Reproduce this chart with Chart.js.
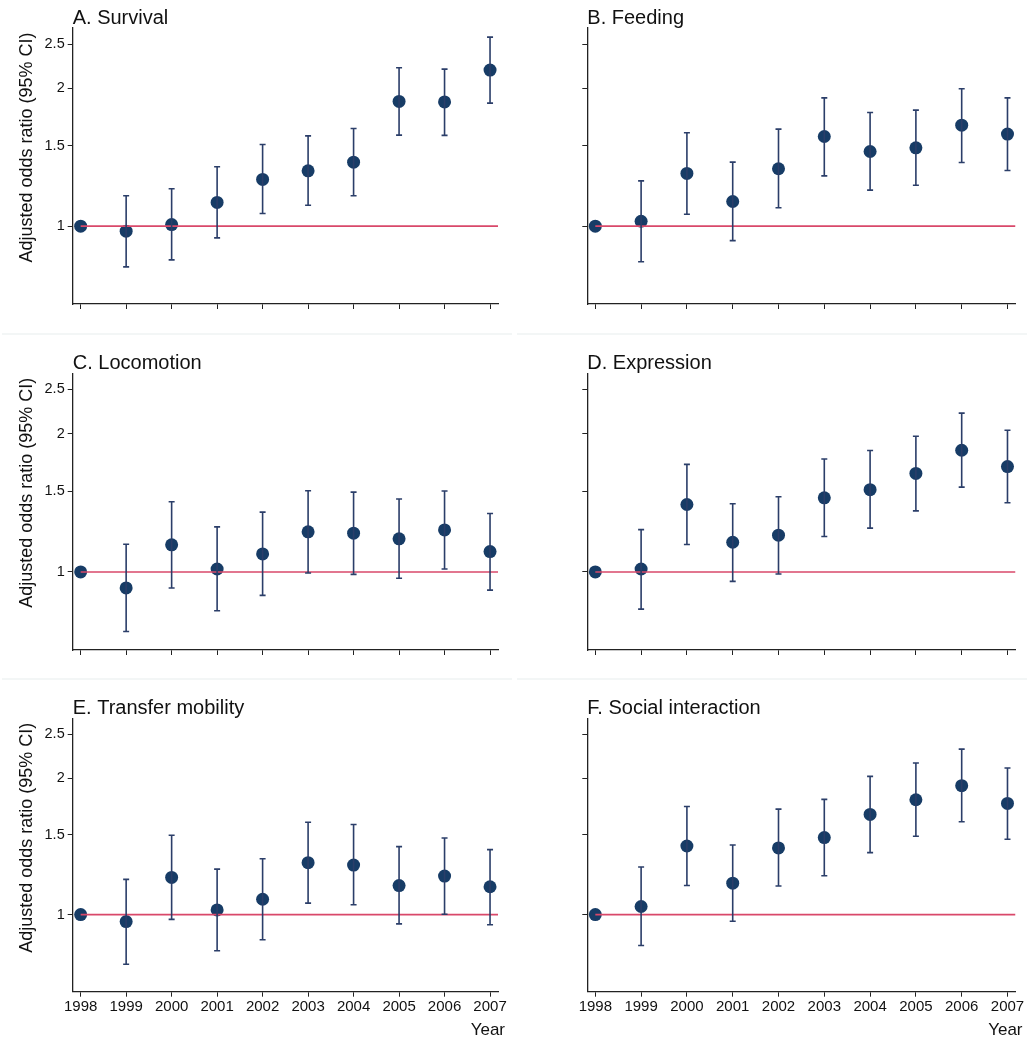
<!DOCTYPE html>
<html>
<head>
<meta charset="utf-8">
<script src="https://cdn.jsdelivr.net/npm/chart.js@4.4.0/dist/chart.umd.min.js"></script>
<style>
  body { margin: 0; background: #fff; width: 1030px; height: 1050px; position: relative; overflow: hidden; }
  .panel { position: absolute; }
  .sep { position: absolute; height: 2px; background: #f3f6f6; }
</style>
</head>
<body>
<div class="panel" style="left:0;top:0"><canvas id="pA"></canvas></div>
<div class="panel" style="left:515px;top:0"><canvas id="pB"></canvas></div>
<div class="panel" style="left:0;top:334px"><canvas id="pC"></canvas></div>
<div class="panel" style="left:515px;top:334px"><canvas id="pD"></canvas></div>
<div class="panel" style="left:0;top:679px"><canvas id="pE"></canvas></div>
<div class="panel" style="left:515px;top:679px"><canvas id="pF"></canvas></div>
<div class="sep" style="left:2px;top:333px;width:510px"></div>
<div class="sep" style="left:517px;top:333px;width:510px"></div>
<div class="sep" style="left:2px;top:678px;width:510px"></div>
<div class="sep" style="left:517px;top:678px;width:510px"></div>

<script>
// data
const years = [1998, 1999, 2000, 2001, 2002, 2003, 2004, 2005, 2006, 2007];
const yTicks = [1, 1.5, 2, 2.5];

const survivalOR = [1, 0.975, 1.008, 1.127, 1.265, 1.321, 1.380, 1.873, 1.868, 2.193];
const survivalLo = [null, 0.815, 0.844, 0.943, 1.066, 1.111, 1.165, 1.581, 1.579, 1.857];
const survivalHi = [null, 1.165, 1.207, 1.348, 1.508, 1.575, 1.635, 2.218, 2.204, 2.589];

const feedingOR = [1, 1.025, 1.304, 1.132, 1.335, 1.570, 1.456, 1.483, 1.662, 1.589];
const feedingLo = [null, 0.836, 1.062, 0.930, 1.097, 1.288, 1.199, 1.229, 1.378, 1.323];
const feedingHi = [null, 1.256, 1.600, 1.380, 1.629, 1.907, 1.772, 1.793, 1.996, 1.907];

const locomotionOR = [1, 0.923, 1.146, 1.015, 1.095, 1.223, 1.215, 1.181, 1.235, 1.108];
const locomotionLo = [null, 0.742, 0.923, 0.823, 0.889, 0.995, 0.988, 0.969, 1.015, 0.913];
const locomotionHi = [null, 1.149, 1.422, 1.254, 1.350, 1.503, 1.493, 1.442, 1.501, 1.341];

const expressionOR = [1, 1.015, 1.403, 1.161, 1.203, 1.451, 1.511, 1.640, 1.842, 1.697];
const expressionLo = [null, 0.830, 1.148, 0.954, 0.990, 1.195, 1.246, 1.359, 1.531, 1.415];
const expressionHi = [null, 1.237, 1.716, 1.408, 1.459, 1.763, 1.839, 1.976, 2.219, 2.037];

const transferOR = [1, 0.965, 1.208, 1.024, 1.081, 1.302, 1.286, 1.159, 1.216, 1.152];
const transferLo = [null, 0.777, 0.976, 0.832, 0.880, 1.060, 1.051, 0.954, 1.002, 0.950];
const transferHi = [null, 1.196, 1.496, 1.260, 1.328, 1.599, 1.580, 1.412, 1.476, 1.391];

const socialOR = [1, 1.042, 1.417, 1.173, 1.403, 1.479, 1.663, 1.792, 1.925, 1.759];
const socialLo = [null, 0.855, 1.159, 0.967, 1.156, 1.218, 1.370, 1.489, 1.602, 1.466];
const socialHi = [null, 1.273, 1.732, 1.424, 1.709, 1.795, 2.018, 2.160, 2.317, 2.106];

// layout
const FONT = '"Liberation Sans", Arial, sans-serif';
const NAVY = '#173c66';
const BAR = '#2b3e69';
const RED = '#d9486a';
const X_MIN = 1997.825, X_MAX = 2007.175;
const Y_MIN = 0.676, Y_MAX = 2.71;

const rows = [
  { height: 334, top: 28, bottom: 304 },
  { height: 345, top: 39.3, bottom: 316 },
  { height: 371, top: 39.3, bottom: 312.7 }
];
const cols = [{ left: 72.7, padRight: 17 }, { left: 72.3, padRight: 14.5 }];

const panels = [
  { id: 'pA', title: 'A. Survival', or: survivalOR, lo: survivalLo, hi: survivalHi, row: 0, col: 0 },
  { id: 'pB', title: 'B. Feeding', or: feedingOR, lo: feedingLo, hi: feedingHi, row: 0, col: 1 },
  { id: 'pC', title: 'C. Locomotion', or: locomotionOR, lo: locomotionLo, hi: locomotionHi, row: 1, col: 0 },
  { id: 'pD', title: 'D. Expression', or: expressionOR, lo: expressionLo, hi: expressionHi, row: 1, col: 1 },
  { id: 'pE', title: 'E. Transfer mobility', or: transferOR, lo: transferLo, hi: transferHi, row: 2, col: 0 },
  { id: 'pF', title: 'F. Social interaction', or: socialOR, lo: socialLo, hi: socialHi, row: 2, col: 1 }
];

// error bars, drawn right after the reference line so dots sit on top
const errorBars = {
  id: 'errorBars',
  afterDatasetDraw(chart, args, opts) {
    if (args.index !== 0) return;
    const { x, y } = chart.scales;
    const ctx = chart.ctx;
    ctx.save();
    ctx.strokeStyle = BAR;
    ctx.lineWidth = 1.6;
    opts.lo.forEach((lo, i) => {
      if (lo == null) return;
      const px = x.getPixelForValue(years[i]);
      const p1 = y.getPixelForValue(lo);
      const p2 = y.getPixelForValue(opts.hi[i]);
      ctx.beginPath();
      ctx.moveTo(px, p1); ctx.lineTo(px, p2);
      ctx.moveTo(px - 3, p1); ctx.lineTo(px + 3, p1);
      ctx.moveTo(px - 3, p2); ctx.lineTo(px + 3, p2);
      ctx.stroke();
    });
    ctx.restore();
  }
};

// panel title, y title, "Year"
const panelText = {
  id: 'panelText',
  afterDraw(chart, args, opts) {
    const ctx = chart.ctx;
    const a = chart.chartArea;
    ctx.save();
    ctx.fillStyle = '#111';
    ctx.font = '20px ' + FONT;
    ctx.textAlign = 'left';
    ctx.textBaseline = 'alphabetic';
    ctx.fillText(opts.title, a.left, a.top - 4.5);
    if (opts.yTitle) {
      ctx.save();
      ctx.translate(27.5, a.top + 119.5);
      ctx.rotate(-Math.PI / 2);
      ctx.font = '18px ' + FONT;
      ctx.textAlign = 'center';
      ctx.textBaseline = 'middle';
      ctx.fillText('Adjusted odds ratio (95% CI)', 0, 0);
      ctx.restore();
    }
    if (opts.xTitle) {
      ctx.font = '17px ' + FONT;
      ctx.textAlign = 'right';
      ctx.fillText('Year', a.right + 7, a.bottom + 43.3);
    }
    ctx.restore();
  }
};

panels.forEach(p => {
  const r = rows[p.row], c = cols[p.col];
  const canvas = document.getElementById(p.id);
  canvas.width = 515;
  canvas.height = r.height;
  const showX = p.row === 2;
  const showY = p.col === 0;

  new Chart(canvas, {
    type: 'scatter',
    data: {
      datasets: [
        {
          data: [{ x: years[0], y: 1 }, { x: X_MAX, y: 1 }],
          showLine: true,
          borderColor: RED,
          borderWidth: 1.6,
          pointRadius: 0
        },
        {
          data: years.map((yr, i) => ({ x: yr, y: p.or[i] })),
          showLine: false,
          backgroundColor: NAVY,
          borderWidth: 0,
          pointRadius: 6.5
        }
      ]
    },
    options: {
      responsive: false,
      animation: false,
      layout: { padding: { top: r.top, right: c.padRight, left: 0, bottom: 0 } },
      plugins: {
        legend: { display: false },
        tooltip: { enabled: false },
        errorBars: { lo: p.lo, hi: p.hi },
        panelText: { title: p.title, yTitle: showY, xTitle: showX }
      },
      scales: {
        x: {
          type: 'linear',
          bounds: 'data',
          min: X_MIN,
          max: X_MAX,
          afterBuildTicks: s => { s.ticks = years.map(v => ({ value: v })); },
          afterFit: s => { s.height = r.height - r.bottom; },
          grid: { display: true, drawOnChartArea: false, drawTicks: true, tickLength: 5, color: '#222', lineWidth: 1 },
          border: { display: true, color: '#222', width: 1.3 },
          ticks: {
            display: showX,
            autoSkip: false,
            maxRotation: 0,
            padding: 1,
            color: '#111',
            font: { family: FONT, size: 15 },
            callback: v => String(v)
          }
        },
        y: {
          type: 'logarithmic',
          bounds: 'data',
          min: Y_MIN,
          max: Y_MAX,
          afterBuildTicks: s => { s.ticks = yTicks.map(v => ({ value: v })); },
          afterFit: s => { s.width = c.left; },
          grid: { display: true, drawOnChartArea: false, drawTicks: true, tickLength: 5, color: '#222', lineWidth: 1 },
          border: { display: true, color: '#222', width: 1.3 },
          ticks: {
            display: showY,
            autoSkip: false,
            padding: 3,
            color: '#111',
            font: { family: FONT, size: 14.5 },
            callback: v => String(v)
          }
        }
      }
    },
    plugins: [errorBars, panelText]
  });
});
</script>
</body>
</html>
